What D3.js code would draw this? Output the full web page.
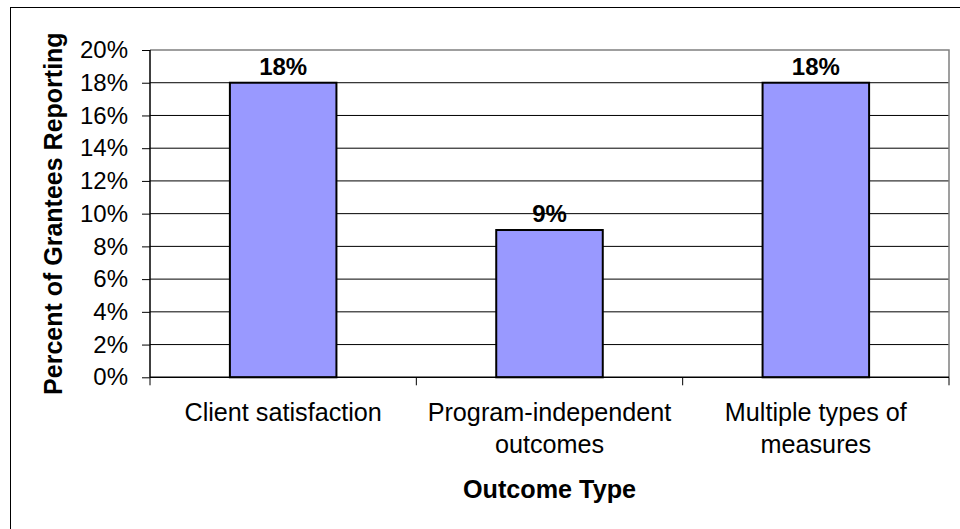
<!DOCTYPE html>
<html>
<head>
<meta charset="utf-8">
<script src="https://cdn.jsdelivr.net/npm/d3@7"></script>
<style>
  html, body { margin: 0; padding: 0; background: #fff; }
  svg { display: block; }
  text { font-family: Arial, "Liberation Sans", sans-serif; fill: #000; }
</style>
</head>
<body>
<svg id="chart" width="960" height="529"></svg>
<script>
// Share of grantees reporting each outcome type
const categories = [
  ["Client satisfaction"],
  ["Program-independent", "outcomes"],
  ["Multiple types of", "measures"]
];
const values = [18, 9, 18];
const yTicks = [0, 2, 4, 6, 8, 10, 12, 14, 16, 18, 20];
const yTitle = "Percent of Grantees Reporting";
const xTitle = "Outcome Type";

const W = 960, H = 529;
const plot = { left: 150, top: 50, right: 949, bottom: 377.3 };

const svg = d3.select("#chart");

// outer chart frame
svg.append("rect")
  .attr("x", 10.5).attr("y", 7.5)
  .attr("width", W + 10).attr("height", H + 10)
  .attr("fill", "#fff").attr("stroke", "#000").attr("stroke-width", 1);

const keys = categories.map((c, i) => i);
const x = d3.scaleBand().domain(keys)
  .range([plot.left, plot.right])
  .paddingInner(0.6).paddingOuter(0.3);
const xCat = d3.scaleBand().domain(keys).range([plot.left, plot.right]);
const y = d3.scaleLinear().domain([0, 20]).range([plot.bottom, plot.top]);

// gridlines
svg.append("g").selectAll("line")
  .data(yTicks.filter(t => t > 0 && t < 20))
  .join("line")
  .attr("x1", plot.left).attr("x2", plot.right)
  .attr("y1", d => y(d)).attr("y2", d => y(d))
  .attr("stroke", "#000").attr("stroke-width", 1);

// plot area border (top and right)
svg.append("path")
  .attr("d", `M${plot.left},${y(20)}H${plot.right}V${plot.bottom}`)
  .attr("fill", "none").attr("stroke", "#808080").attr("stroke-width", 1.5);

// y axis
const yAxis = d3.axisLeft(y).tickValues(yTicks)
  .tickFormat(d => d + "%").tickSize(8).tickPadding(14);
const gy = svg.append("g").attr("transform", `translate(${plot.left},0)`).call(yAxis);
gy.select(".domain").remove();
gy.selectAll(".tick line").attr("stroke", "#000");
gy.selectAll(".tick text")
  .style("font-family", "Arial, 'Liberation Sans', sans-serif")
  .style("font-size", "24px").attr("fill", "#000");
svg.append("line")
  .attr("x1", plot.left).attr("x2", plot.left)
  .attr("y1", plot.top).attr("y2", plot.bottom)
  .attr("stroke", "#000").attr("stroke-width", 1.5);

// bars
svg.append("g").selectAll("rect")
  .data(values)
  .join("rect")
  .attr("x", (d, i) => x(i))
  .attr("width", x.bandwidth())
  .attr("y", d => y(d))
  .attr("height", d => y(0) - y(d))
  .attr("fill", "#9999FF")
  .attr("stroke", "#000").attr("stroke-width", 2);

// value labels
svg.append("g").selectAll("text")
  .data(values)
  .join("text")
  .attr("x", (d, i) => x(i) + x.bandwidth() / 2)
  .attr("y", d => y(d) - 8)
  .attr("text-anchor", "middle")
  .style("font-size", "24px").style("font-weight", "bold")
  .text(d => d + "%");

// x axis line and category dividers
svg.append("line")
  .attr("x1", plot.left).attr("x2", plot.right)
  .attr("y1", plot.bottom).attr("y2", plot.bottom)
  .attr("stroke", "#000").attr("stroke-width", 1.5);
const dividers = keys.map(k => xCat(k)).concat([plot.right]);
svg.append("g").selectAll("line")
  .data(dividers)
  .join("line")
  .attr("x1", d => d).attr("x2", d => d)
  .attr("y1", plot.bottom).attr("y2", plot.bottom + 8)
  .attr("stroke", "#000").attr("stroke-width", 1);

// category labels
const catG = svg.append("g").selectAll("text")
  .data(categories)
  .join("text")
  .attr("x", (d, i) => xCat(i) + xCat.bandwidth() / 2)
  .attr("y", 421)
  .attr("text-anchor", "middle")
  .style("font-size", "25.2px");
catG.selectAll("tspan")
  .data(d => d)
  .join("tspan")
  .attr("x", function () { return d3.select(this.parentNode).attr("x"); })
  .attr("dy", (d, i) => i === 0 ? 0 : 32)
  .text(d => d);

// axis titles
svg.append("text")
  .attr("x", (plot.left + plot.right) / 2)
  .attr("y", 498)
  .attr("text-anchor", "middle")
  .style("font-size", "25.2px").style("font-weight", "bold")
  .text(xTitle);

svg.append("text")
  .attr("transform", `translate(62,${(plot.top + plot.bottom) / 2}) rotate(-90)`)
  .attr("text-anchor", "middle")
  .style("font-size", "25px").style("font-weight", "bold")
  .text(yTitle);
</script>
</body>
</html>
